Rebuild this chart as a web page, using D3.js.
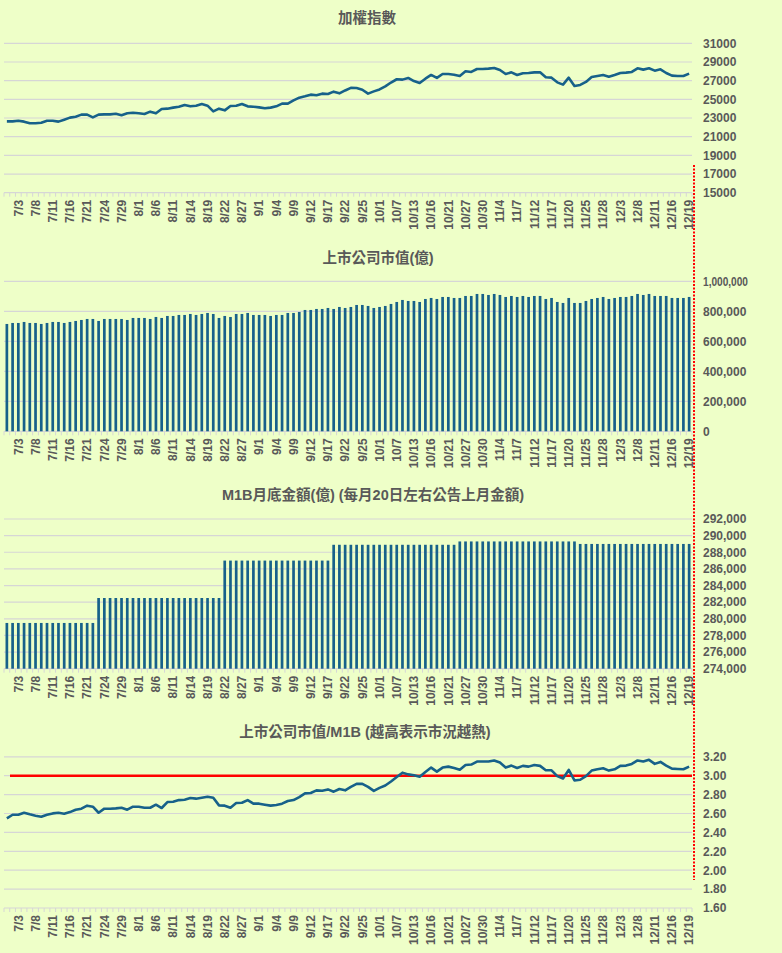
<!DOCTYPE html>
<html>
<head>
<meta charset="utf-8">
<script src="https://cdn.jsdelivr.net/npm/d3@7"></script>
<style>
  html, body { margin: 0; padding: 0; background: #EEFFC8; }
  #container { width: 782px; height: 953px; }
  text { font-family: "Liberation Sans", Arial, "Noto Sans CJK TC", sans-serif; }
</style>
</head>
<body>
<div id="container"></div>
<script>
// trading days 2025/7/1 .. 12/19
const dates = [
  '7/1','7/2','7/3','7/4','7/7','7/8','7/9','7/10','7/11','7/14','7/15','7/16','7/17','7/18','7/21','7/22','7/23','7/24','7/25','7/28','7/29','7/30','7/31',
  '8/1','8/4','8/5','8/6','8/7','8/8','8/11','8/12','8/13','8/14','8/15','8/18','8/19','8/20','8/21','8/22','8/25','8/26','8/27','8/28','8/29',
  '9/1','9/2','9/3','9/4','9/5','9/8','9/9','9/10','9/11','9/12','9/15','9/16','9/17','9/18','9/19','9/22','9/23','9/24','9/25','9/26','9/30',
  '10/1','10/2','10/3','10/7','10/8','10/9','10/13','10/14','10/15','10/16','10/17','10/20','10/21','10/22','10/23','10/27','10/28','10/29','10/30','10/31',
  '11/3','11/4','11/5','11/6','11/7','11/10','11/11','11/12','11/13','11/14','11/17','11/18','11/19','11/20','11/21','11/24','11/25','11/26','11/27','11/28',
  '12/1','12/2','12/3','12/4','12/5','12/8','12/9','12/10','12/11','12/12','12/15','12/16','12/17','12/18','12/19'
];

// x labels shown on the axes (every third day)
const shownDates = [
  '7/3','7/8','7/11','7/16','7/21','7/24','7/29','8/1','8/6','8/11','8/14','8/19','8/22','8/27',
  '9/1','9/4','9/9','9/12','9/17','9/22','9/25','10/1','10/7','10/13','10/16','10/21','10/27','10/30',
  '11/4','11/7','11/12','11/17','11/20','11/25','11/28','12/3','12/8','12/11','12/16','12/19'
];

const taiex = [
  22640,22640,22710,22610,22430,22430,22500,22710,22710,22610,
  22820,23040,23140,23360,23360,23070,23360,23390,23390,23460,
  23290,23500,23570,23500,23430,23680,23500,23960,24000,24110,
  24210,24390,24250,24320,24500,24320,23710,24000,23820,24290,
  24320,24500,24250,24210,24140,24040,24110,24250,24540,24540,
  24890,25180,25320,25500,25430,25610,25570,25820,25640,25950,
  26230,26210,26030,25610,25850,26060,26390,26800,27150,27110,
  27290,26960,26750,27210,27610,27290,27710,27710,27640,27500,
  28000,27930,28250,28250,28290,28360,28140,27710,27890,27610,
  27790,27820,27890,27890,27360,27320,26820,26570,27320,26430,
  26540,26860,27390,27500,27610,27430,27610,27820,27860,27930,
  28320,28180,28320,28070,28210,27820,27540,27500,27500,27750
];

const marketCap = [
  715600,722200,722200,728900,722200,722200,715600,722200,728900,728900,
  722200,728900,735600,742200,748900,748900,735600,748900,748900,748900,
  748900,742200,755600,755600,755600,748900,762200,755600,768900,768900,
  775600,775600,782200,775600,782200,788900,782200,755600,768900,762200,
  782200,782200,788900,775600,775600,775600,768900,775600,775600,788900,
  788900,795600,808900,808900,815600,815600,822200,815600,828900,822200,
  828900,842200,842200,835600,822200,828900,835600,848900,862200,875600,
  868900,868900,862200,882200,888900,882200,895600,895600,888900,888900,
  902200,902200,915600,915600,908900,915600,908900,895600,902200,895600,
  902200,895600,902200,902200,882200,888900,862200,855600,888900,855600,
  855600,868900,882200,888900,895600,882200,888900,895600,895600,902200,
  915600,908900,915600,902200,902200,902200,888900,888900,888900,895600
];

const m1b = [
  279500,279500,279500,279500,279500,279500,279500,279500,279500,279500,
  279500,279500,279500,279500,279500,279500,282500,282500,282500,282500,
  282500,282500,282500,282500,282500,282500,282500,282500,282500,282500,
  282500,282500,282500,282500,282500,282500,282500,282500,287000,287000,
  287000,287000,287000,287000,287000,287000,287000,287000,287000,287000,
  287000,287000,287000,287000,287000,287000,287000,288900,288900,288900,
  288900,288900,288900,288900,288900,288900,288900,288900,288900,288900,
  288900,288900,288900,288900,288900,288900,288900,288900,288900,289300,
  289300,289300,289300,289300,289300,289300,289300,289300,289300,289300,
  289300,289300,289300,289300,289300,289300,289300,289300,289300,289300,
  289000,289000,289000,289000,289000,289000,289000,289000,289000,289000,
  289000,289000,289000,289000,289000,289000,289000,289000,289000,289000
];

const capToM1b = [
  2.549,2.587,2.587,2.608,2.591,2.577,2.566,2.587,2.601,2.608,
  2.598,2.615,2.640,2.651,2.683,2.672,2.608,2.651,2.651,2.654,
  2.661,2.640,2.672,2.672,2.661,2.661,2.693,2.658,2.721,2.725,
  2.742,2.746,2.764,2.757,2.767,2.778,2.767,2.686,2.683,2.661,
  2.711,2.714,2.742,2.704,2.704,2.693,2.683,2.690,2.704,2.732,
  2.742,2.774,2.813,2.817,2.845,2.841,2.855,2.831,2.859,2.845,
  2.882,2.914,2.914,2.882,2.839,2.871,2.896,2.939,2.986,3.032,
  3.014,3.004,2.989,3.039,3.086,3.043,3.086,3.096,3.082,3.064,
  3.114,3.118,3.150,3.150,3.150,3.161,3.139,3.086,3.107,3.082,
  3.104,3.096,3.114,3.104,3.057,3.057,2.996,2.971,3.061,2.950,
  2.957,2.996,3.054,3.068,3.079,3.054,3.068,3.104,3.107,3.125,
  3.161,3.150,3.168,3.125,3.146,3.107,3.075,3.071,3.068,3.096
];

const threshold = 3.0;

const taiexTicks = [15000,17000,19000,21000,23000,25000,27000,29000,31000];
const capTicks = [0,200000,400000,600000,800000,1000000];
const m1bTicks = [274000,276000,278000,280000,282000,284000,286000,288000,290000,292000];
const ratioTicks = [1.6,1.8,2.0,2.2,2.4,2.6,2.8,3.0,3.2];

const titles = [
  '加權指數',
  '上市公司市值(億)',
  'M1B月底金額(億) (每月20日左右公告上月金額)',
  '上市公司市值/M1B (越高表示市況越熱)'
];

const W = 782, H = 953;
const plotLeft = 4, plotRight = 692;
const barColor = '#17618A';
const gridColor = '#D6D6D6';
const textColor = '#595959';

const svg = d3.select('#container').append('svg')
  .attr('width', W).attr('height', H);

svg.append('rect').attr('width', W).attr('height', H).attr('fill', '#EEFFC8');

const x = d3.scaleBand().domain(dates).range([plotLeft, plotRight])
  .paddingInner(0.53).paddingOuter(0.265);
const xEdge = d3.scaleLinear().domain([0, dates.length]).range([plotLeft, plotRight]);
const cx = d => x(d) + x.bandwidth() / 2;

const drawPanel = (specs) => {
  const y = d3.scaleLinear().domain(specs.domain).range([specs.bottom, specs.top]);
  const g = svg.append('g');

  g.append('text')
    .attr('x', specs.titleX).attr('y', specs.titleY)
    .attr('text-anchor', 'middle').attr('dominant-baseline', 'central')
    .attr('font-size', '14.5px').attr('font-weight', 'bold')
    .attr('fill', textColor)
    .text(specs.title);

  // gridlines + right labels
  g.selectAll('.grid').data(specs.ticks).enter().append('line')
    .attr('x1', plotLeft).attr('x2', plotRight)
    .attr('y1', d => y(d)).attr('y2', d => y(d))
    .attr('stroke', gridColor).attr('stroke-width', 1.2);

  g.selectAll('.ylab').data(specs.ticks).enter().append('text')
    .attr('x', 703).attr('y', d => y(d)).attr('dy', '0.36em')
    .attr('font-size', '12px').attr('font-weight', 'bold')
    .attr('fill', textColor)
    .text(specs.format)
    .each(function () {
      // long labels get squeezed like the spreadsheet does
      if (specs.maxLabel && this.getComputedTextLength() > specs.maxLabel) {
        d3.select(this).attr('textLength', specs.maxLabel).attr('lengthAdjust', 'spacingAndGlyphs');
      }
    });

  // category ticks
  g.selectAll('.xtick').data(d3.range(dates.length + 1)).enter().append('line')
    .attr('x1', d => xEdge(d)).attr('x2', d => xEdge(d))
    .attr('y1', specs.bottom).attr('y2', specs.bottom + 4)
    .attr('stroke', gridColor).attr('stroke-width', 1);

  g.selectAll('.xlab').data(shownDates).enter().append('text')
    .attr('transform', d => `translate(${cx(d)},${specs.bottom + 7}) rotate(-90)`)
    .attr('dy', '0.36em').attr('text-anchor', 'end')
    .attr('font-size', '12px').attr('font-weight', 'bold')
    .attr('fill', textColor)
    .text(d => d);

  specs.draw(g, y);
};

const drawLine = values => (g, y) => {
  const line = d3.line().x((d, i) => cx(dates[i])).y(d => y(d));
  g.append('path')
    .attr('d', line(values))
    .attr('fill', 'none')
    .attr('stroke', barColor)
    .attr('stroke-width', 2.6)
    .attr('stroke-linejoin', 'round');
};

const drawBars = values => (g, y) => {
  g.selectAll('.bar').data(values).enter().append('rect')
    .attr('x', (d, i) => x(dates[i]))
    .attr('width', x.bandwidth())
    .attr('y', d => y(d))
    .attr('height', d => y.range()[0] - y(d))
    .attr('fill', barColor);
};

drawPanel({
  title: titles[0], titleX: 367, titleY: 17.5,
  top: 43.3, bottom: 192.7, domain: [15000, 31000],
  ticks: taiexTicks, format: d => d3.format('d')(d),
  draw: drawLine(taiex)
});

drawPanel({
  title: titles[1], titleX: 378, titleY: 258,
  top: 281.3, bottom: 431.3, domain: [0, 1000000],
  ticks: capTicks, format: d => d3.format(',')(d), maxLabel: 45,
  draw: drawBars(marketCap)
});

drawPanel({
  title: titles[2], titleX: 373, titleY: 495,
  top: 519, bottom: 668.7, domain: [274000, 292000],
  ticks: m1bTicks, format: d => d3.format(',')(d),
  draw: drawBars(m1b)
});

drawPanel({
  title: titles[3], titleX: 365, titleY: 732,
  top: 756.8, bottom: 908, domain: [1.6, 3.2],
  ticks: ratioTicks, format: d => d3.format('.2f')(d),
  draw: (g, y) => {
    g.append('line')
      .attr('x1', 10).attr('x2', plotRight)
      .attr('y1', y(threshold)).attr('y2', y(threshold))
      .attr('stroke', '#FF0000').attr('stroke-width', 2.5);
    drawLine(capToM1b)(g, y);
  }
});

// red dotted marker on the right edge
svg.append('line')
  .attr('x1', 694).attr('x2', 694)
  .attr('y1', 165).attr('y2', 880)
  .attr('stroke', '#FF0000').attr('stroke-width', 2)
  .attr('stroke-dasharray', '2,1.5');
</script>
</body>
</html>
